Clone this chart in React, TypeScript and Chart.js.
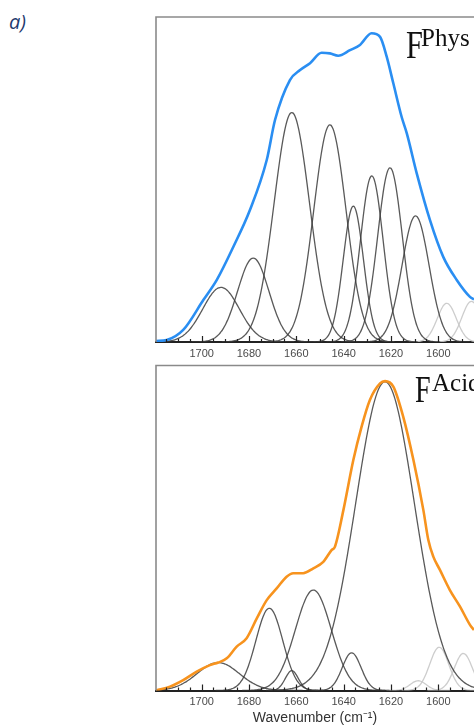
import React, { useEffect, useRef } from "react";
import { Chart, registerables } from "chart.js";
Chart.register(...registerables);

// ---------- axis ----------
const X_MIN = 1584.9;
const X_MAX = 1719.3;
const majorTicks = [1700, 1680, 1660, 1640, 1620, 1600];
const minorTicks = [1715, 1710, 1705, 1695, 1690, 1685, 1675, 1670, 1665, 1655, 1650, 1645, 1635, 1630, 1625, 1615, 1610, 1605, 1595, 1590];

// ---------- top panel: F^Phys ----------
const physEnvWn = [1719.3, 1714.8, 1707.8, 1699.3, 1693.6, 1686.6, 1679.6, 1672.5, 1669.0, 1662.7, 1658.4, 1654.2, 1649.3, 1645.8, 1642.3, 1637.3, 1633.1, 1628.2, 1624.6, 1621.8, 1619.0, 1615.5, 1613.3, 1609.1, 1603.5, 1597.9, 1592.2, 1586.6, 1584.9];
const physEnvAbs = [0.003, 0.006, 0.037, 0.129, 0.191, 0.293, 0.406, 0.560, 0.683, 0.806, 0.837, 0.858, 0.890, 0.888, 0.881, 0.898, 0.914, 0.950, 0.939, 0.878, 0.796, 0.693, 0.642, 0.519, 0.375, 0.262, 0.191, 0.139, 0.131];
const physBandCenters = [1691.8, 1678.2, 1661.9, 1645.8, 1635.9, 1628.1, 1620.4, 1609.6];
const physBandHeights = [0.168, 0.258, 0.706, 0.668, 0.418, 0.511, 0.536, 0.388];
const physBandFwhm = [18.2, 15.6, 17.6, 16.1, 10.1, 11.4, 12.3, 13.5];
const physSideCenters = [1596.4, 1586.0];
const physSideHeights = [0.119, 0.125];
const physSideFwhm = [9.5, 9.5];

// ---------- bottom panel: F^Acid ----------
const acidEnvWn = [1719.3, 1713.4, 1707.8, 1702.1, 1696.5, 1693.0, 1689.4, 1685.2, 1681.0, 1676.7, 1672.5, 1668.3, 1664.1, 1661.3, 1657.1, 1652.8, 1648.6, 1645.1, 1643.7, 1640.1, 1635.9, 1632.4, 1628.9, 1624.6, 1622.5, 1619.0, 1614.8, 1610.5, 1606.3, 1604.2, 1602.1, 1599.3, 1595.1, 1590.8, 1586.6, 1584.9];
const acidEnvAbs = [0.0, 0.012, 0.032, 0.058, 0.078, 0.086, 0.099, 0.135, 0.161, 0.222, 0.278, 0.314, 0.350, 0.361, 0.361, 0.376, 0.396, 0.432, 0.442, 0.555, 0.709, 0.812, 0.894, 0.945, 0.952, 0.935, 0.842, 0.709, 0.555, 0.463, 0.412, 0.371, 0.309, 0.258, 0.202, 0.186];
const acidBandCenters = [1693.0, 1671.4, 1661.9, 1652.8, 1636.6, 1622.5];
const acidBandHeights = [0.086, 0.253, 0.061, 0.309, 0.116, 0.950];
const acidBandFwhm = [21.0, 13.4, 6.5, 17.9, 9.4, 29.2];
const acidSideCenters = [1608.5, 1599.6, 1589.4];
const acidSideHeights = [0.030, 0.133, 0.114];
const acidSideFwhm = [8.0, 9.5, 9.0];

type Pt = { x: number; y: number };

function bandPoints(center: number, height: number, fwhm: number): Pt[] {
  const sigma = fwhm / 2.3548;
  const pts: Pt[] = [];
  for (let x = center - 4 * sigma; x <= center + 4 * sigma; x += 0.5) {
    pts.push({ x, y: height * Math.exp(-((x - center) ** 2) / (2 * sigma * sigma)) });
  }
  return pts;
}

function envPoints(wn: number[], a: number[]): Pt[] {
  return wn.map((w, i) => ({ x: w, y: a[i] }));
}

function buildDatasets(envWn: number[], envAbs: number[], envColor: string,
  c: number[], h: number[], f: number[], sc: number[], sh: number[], sf: number[]) {
  const ds: any[] = [];
  ds.push({
    data: envPoints(envWn, envAbs), borderColor: envColor, borderWidth: 2.6,
    pointRadius: 0, cubicInterpolationMode: "monotone", fill: false,
  });
  c.forEach((cc, i) => ds.push({
    data: bandPoints(cc, h[i], f[i]), borderColor: "rgba(60,60,60,0.85)", borderWidth: 1.3,
    pointRadius: 0, cubicInterpolationMode: "monotone", fill: false,
  }));
  sc.forEach((cc, i) => ds.push({
    data: bandPoints(cc, sh[i], sf[i]), borderColor: "rgba(200,200,200,0.9)", borderWidth: 1.3,
    pointRadius: 0, cubicInterpolationMode: "monotone", fill: false,
  }));
  return ds;
}

function framePlugin(label: string, sup: string, fSize: number, fDx: number, fDy: number, sDx: number, sDy: number) {
  return {
    id: "frame_" + sup,
    afterDatasetsDraw(chart: any) {
      const { ctx, chartArea: a, scales } = chart;
      const xs = scales.x;
      ctx.save();
      // box: left and top edges
      ctx.strokeStyle = "#8a8a8a";
      ctx.lineWidth = 1.6;
      ctx.beginPath();
      ctx.moveTo(a.left, a.bottom);
      ctx.lineTo(a.left, a.top);
      ctx.lineTo(a.right + 2, a.top);
      ctx.stroke();
      // inward tick marks
      ctx.strokeStyle = "#222";
      ctx.lineWidth = 1.2;
      ctx.beginPath();
      majorTicks.forEach((v) => {
        const px = Math.round(xs.getPixelForValue(v)) + 0.5;
        ctx.moveTo(px, a.bottom);
        ctx.lineTo(px, a.bottom - 6);
      });
      minorTicks.forEach((v) => {
        const px = Math.round(xs.getPixelForValue(v)) + 0.5;
        ctx.moveTo(px, a.bottom);
        ctx.lineTo(px, a.bottom - 3);
      });
      ctx.stroke();
      // panel label
      ctx.fillStyle = "#111";
      ctx.textBaseline = "alphabetic";
      ctx.save();
      ctx.translate(a.left + fDx, a.top + fDy);
      ctx.scale(0.76, 1);
      ctx.font = `${fSize}px "Liberation Serif", "DejaVu Serif", serif`;
      ctx.fillText(label, 0, 0);
      ctx.restore();
      ctx.font = `25px "Liberation Serif", "DejaVu Serif", serif`;
      ctx.fillText(sup, a.left + sDx, a.top + sDy);
      ctx.restore();
    },
  };
}

function makeOptions(axisH: number, withTitle: boolean, padTop: number) {
  return {
    animation: false as const,
    responsive: false,
    maintainAspectRatio: false,
    layout: { padding: { top: padTop, left: 156, right: 0, bottom: 0 } },
    plugins: { legend: { display: false }, tooltip: { enabled: false } },
    scales: {
      x: {
        type: "linear" as const,
        reverse: true,
        min: X_MIN,
        max: X_MAX,
        afterFit: (s: any) => { s.height = axisH; },
        grid: { display: false, drawOnChartArea: false, drawTicks: false },
        border: { display: true, color: "#222", width: 2 },
        ticks: {
          stepSize: 20,
          includeBounds: false,
          autoSkip: false,
          maxRotation: 0,
          padding: 5,
          color: "#4a4a4a",
          font: { family: '"Liberation Sans", Arial, sans-serif', size: 11 },
          callback: (v: any) => (majorTicks.includes(Number(v)) ? String(v) : ""),
        },
        title: {
          display: withTitle,
          text: "Wavenumber (cm\u207B\u00B9)",
          color: "#333",
          font: { family: '"Liberation Sans", Arial, sans-serif', size: 14 },
          padding: { top: 0, bottom: -1 },
        },
      },
      y: { display: false, min: 0, max: 1 },
    },
  };
}

export default function App() {
  const topRef = useRef<HTMLCanvasElement>(null);
  const botRef = useRef<HTMLCanvasElement>(null);

  useEffect(() => {
    const top = new Chart(topRef.current!, {
      type: "line",
      data: {
        datasets: buildDatasets(physEnvWn, physEnvAbs, "#2a8ef2",
          physBandCenters, physBandHeights, physBandFwhm,
          physSideCenters, physSideHeights, physSideFwhm),
      },
      options: makeOptions(20, false, 17) as any,
      plugins: [framePlugin("F", "Phys", 40, 250, 41, 265, 29)],
    });
    const bot = new Chart(botRef.current!, {
      type: "line",
      data: {
        datasets: buildDatasets(acidEnvWn, acidEnvAbs, "#f7931e",
          acidBandCenters, acidBandHeights, acidBandFwhm,
          acidSideCenters, acidSideHeights, acidSideFwhm),
      },
      options: makeOptions(35.5, true, 3.5) as any,
      plugins: [framePlugin("F", "Acid", 37, 259, 36, 276, 25)],
    });
    return () => { top.destroy(); bot.destroy(); };
  }, []);

  return (
    <div style={{ position: "fixed", left: 0, top: 0, width: 474, height: 726, overflow: "hidden", background: "#fff" }}>
      <div style={{
        position: "absolute", left: 9, top: 9, fontFamily: '"Open Sans", "Noto Sans", sans-serif',
        fontStyle: "italic", fontSize: 20, color: "#1f3a6e", lineHeight: "26px",
      }}>a)</div>
      <canvas ref={topRef} width={474} height={362} style={{ position: "absolute", left: 0, top: 0, width: 474, height: 362 }} />
      <canvas ref={botRef} width={474} height={364} style={{ position: "absolute", left: 0, top: 362, width: 474, height: 364 }} />
    </div>
  );
}
